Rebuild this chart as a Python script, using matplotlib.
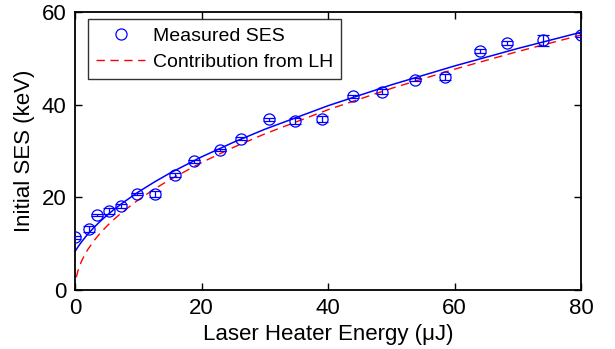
import matplotlib
matplotlib.use("Agg")
import matplotlib.pyplot as plt

plt.rcParams['font.family'] = ['Liberation Sans', 'DejaVu Sans']

# measured data
energy = [0.0, 2.2, 3.5, 5.4, 7.3, 9.8, 12.7, 15.8, 18.8, 22.9, 26.3, 30.7,
          34.7, 39.1, 43.9, 48.5, 53.7, 58.5, 64.0, 68.2, 73.9, 79.9]
ses = [11.4, 13.2, 16.2, 17.0, 18.1, 20.7, 20.7, 24.8, 27.8, 30.2, 32.6, 36.8,
       36.5, 36.9, 41.8, 42.8, 45.4, 45.9, 51.5, 53.3, 53.9, 55.0]
ses_err = [0.3, 0.6, 0.3, 0.7, 0.4, 0.3, 0.7, 0.4, 0.3, 0.3, 0.3, 0.3,
           0.6, 0.6, 0.3, 0.6, 0.4, 0.6, 0.4, 0.5, 1.2, 0.5]

# fit curve (blue solid)
fit_x = [0, 0.5, 1, 1.5, 2, 3, 4, 5, 6, 7.5, 10, 12.5, 15, 20, 25, 30, 40, 50, 60, 70, 80]
fit_y = [8.31, 9.38, 10.33, 11.20, 12.02, 13.51, 14.85, 16.06, 17.19, 18.77, 21.14,
         23.26, 25.22, 28.72, 31.84, 34.68, 39.76, 44.26, 48.34, 52.11, 55.61]

# contribution from LH (red dashed)
lh_x = [0.2, 0.5, 1, 1.5, 2, 3, 4, 5, 6, 7.5, 10, 12.5, 15, 20, 25, 30, 40, 50, 60, 70, 80]
lh_y = [2.75, 4.35, 6.15, 7.53, 8.70, 10.65, 12.30, 13.75, 15.06, 16.84, 19.45,
        21.74, 23.82, 27.50, 30.75, 33.68, 38.90, 43.49, 47.64, 51.45, 55.01]

fig = plt.figure(figsize=(6.15, 3.49), dpi=100)
ax = fig.add_axes([0.122, 0.169, 0.823, 0.797])

ax.plot(fit_x, fit_y, color='#0000ff', lw=1.1, zorder=2)
ax.plot(lh_x, lh_y, color='#ff0000', lw=1.0, ls=(0, (6, 4)), zorder=2,
        label='Contribution from LH')
ax.errorbar(energy, ses, yerr=ses_err, fmt='none', ecolor='#0000ff',
            elinewidth=0.9, capsize=4, capthick=0.9, zorder=3)
ax.plot(energy, ses, 'o', mfc='none', mec='#0000ff', ms=8, mew=0.9,
        zorder=4, label='Measured SES')

ax.set_xlim(0, 80)
ax.set_ylim(0, 60)
ax.set_xticks([0, 20, 40, 60, 80])
ax.set_yticks([0, 20, 40, 60])
ax.tick_params(direction='in', top=True, right=True, length=5, width=1,
               labelsize=16, pad=6)
for s in ax.spines.values():
    s.set_linewidth(1.3)

ax.set_xlabel('Laser Heater Energy (\u03bcJ)', fontsize=16, labelpad=3)
ax.set_ylabel('Initial SES (keV)', fontsize=16, labelpad=5)

h, l = ax.get_legend_handles_labels()
leg = ax.legend([h[1], h[0]], [l[1], l[0]], loc='upper left',
                bbox_to_anchor=(0.026, 0.974), borderaxespad=0, fontsize=14,
                frameon=True, fancybox=False, edgecolor='black',
                handlelength=2.5, borderpad=0.42, labelspacing=0.45,
                handletextpad=0.4)
leg.get_frame().set_linewidth(1.0)

fig.savefig('out.png', dpi=100)
